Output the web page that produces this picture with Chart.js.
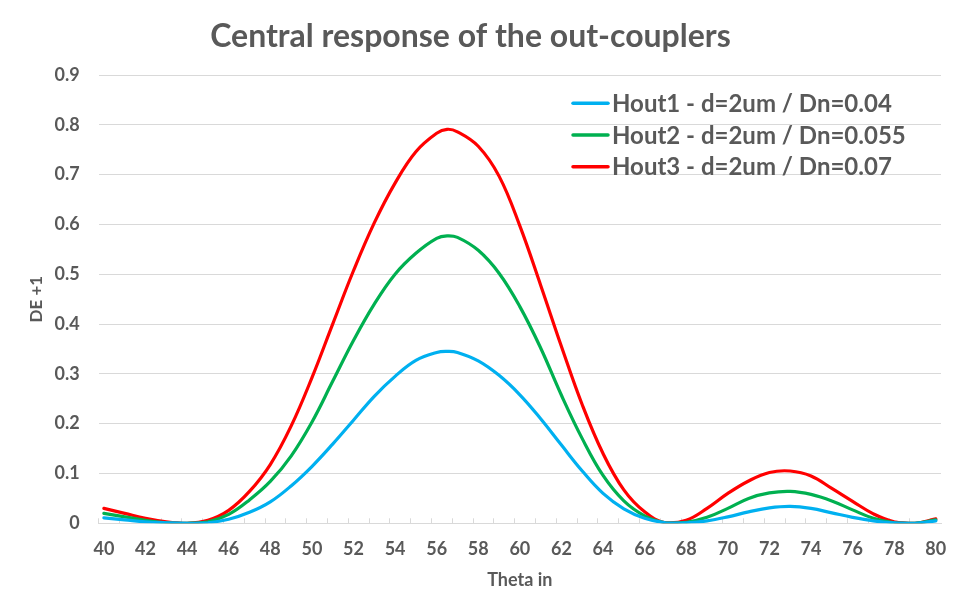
<!DOCTYPE html>
<html>
<head>
<meta charset="utf-8">
<script src="https://cdn.jsdelivr.net/npm/chart.js@4.4.1/dist/chart.umd.min.js"></script>
<style>
  html, body { margin: 0; padding: 0; background: #ffffff; }
  #wrap { width: 972px; height: 611px; position: relative; }
</style>
</head>
<body>
<div id="wrap"><canvas id="c"></canvas></div>
<script>
// ---- data ----
const theta = [40, 41, 42, 43, 44, 45, 46, 47, 48, 49, 50, 51, 52, 53, 54, 55, 56, 56.5,
               57, 58, 59, 60, 61, 62, 63, 64, 65, 66, 67, 68, 69, 70, 71, 72, 73, 74, 75, 76, 77, 78, 79, 80];

const hout1 = [0.011, 0.007, 0.003, 0.001, 0.000, 0.001, 0.008, 0.022, 0.043, 0.075, 0.114, 0.159, 0.207, 0.255, 0.295, 0.327, 0.343, 0.345,
               0.343, 0.326, 0.297, 0.258, 0.210, 0.157, 0.105, 0.060, 0.029, 0.010, 0.001, 0.001, 0.005, 0.013, 0.023, 0.031, 0.034, 0.030, 0.021, 0.012, 0.005, 0.001, 0.000, 0.005];

const hout2 = [0.020, 0.013, 0.006, 0.001, 0.000, 0.003, 0.018, 0.047, 0.084, 0.135, 0.203, 0.285, 0.367, 0.440, 0.500, 0.542, 0.572, 0.577,
               0.574, 0.548, 0.502, 0.435, 0.352, 0.257, 0.170, 0.096, 0.045, 0.015, 0.001, 0.002, 0.012, 0.030, 0.050, 0.061, 0.064, 0.058, 0.045, 0.027, 0.010, 0.001, 0.000, 0.007];

const hout3 = [0.030, 0.020, 0.010, 0.003, 0.000, 0.006, 0.026, 0.064, 0.118, 0.195, 0.292, 0.400, 0.507, 0.603, 0.683, 0.746, 0.783, 0.791,
               0.786, 0.757, 0.697, 0.597, 0.478, 0.355, 0.238, 0.140, 0.067, 0.023, 0.001, 0.006, 0.030, 0.060, 0.085, 0.102, 0.105, 0.095, 0.070, 0.044, 0.019, 0.003, 0.000, 0.009];

const seriesLabels = ['Hout1 - d=2um / Dn=0.04', 'Hout2 - d=2um / Dn=0.055', 'Hout3 - d=2um / Dn=0.07'];
const seriesColors = ['#00B0F0', '#00B050', '#FF0000'];

const xTickLabels = ['40', '42', '44', '46', '48', '50', '52', '54', '56', '58', '60',
                     '62', '64', '66', '68', '70', '72', '74', '76', '78', '80'];
const yTickLabels = ['0', '0.1', '0.2', '0.3', '0.4', '0.5', '0.6', '0.7', '0.8', '0.9'];

const titleText = 'Central response of the out-couplers';
const xTitle = 'Theta in';
const yTitle = 'DE +1';

// ---- build datasets ----
function pts(ys) { return theta.map((t, i) => ({ x: t, y: ys[i] })); }
const seriesValues = [hout1, hout2, hout3];

const TXT = '#595959';
const GRID = '#D9D9D9';
const FONT = 'Lato, "Open Sans", "DejaVu Sans", sans-serif';

const insideLegend = {
  id: 'insideLegend',
  afterDraw(chart) {
    const ctx = chart.ctx;
    const ca = chart.chartArea;
    ctx.save();
    ctx.font = 'bold 24px ' + FONT;
    ctx.textBaseline = 'middle';
    ctx.textAlign = 'left';
    chart.data.datasets.forEach((ds, i) => {
      const y = ca.top + 28.3 + i * 31.7;
      const x0 = ca.right - 368;
      ctx.strokeStyle = ds.borderColor;
      ctx.lineWidth = 3.5;
      ctx.lineCap = 'round';
      ctx.beginPath();
      ctx.moveTo(x0, y);
      ctx.lineTo(x0 + 35, y);
      ctx.stroke();
      ctx.fillStyle = TXT;
      ctx.fillText(ds.label, x0 + 39, y + 1);
    });
    ctx.restore();
  }
};

new Chart(document.getElementById('c'), {
  type: 'scatter',
  data: {
    datasets: seriesValues.map((vals, i) => ({
      label: seriesLabels[i],
      data: pts(vals),
      showLine: true,
      borderColor: seriesColors[i],
      backgroundColor: seriesColors[i],
      borderWidth: 3.2,
      pointRadius: 0,
      pointHoverRadius: 0,
      tension: 0.4,
      borderCapStyle: 'round',
      borderJoinStyle: 'round'
    }))
  },
  options: {
    responsive: true,
    maintainAspectRatio: false,
    animation: false,
    events: [],
    layout: { padding: { left: 0, right: 31, top: 0, bottom: 0 } },
    plugins: {
      legend: { display: false },
      tooltip: { enabled: false },
      title: {
        display: true,
        text: titleText,
        color: TXT,
        font: { family: FONT, size: 32, weight: 'bold', lineHeight: 1.2 },
        padding: { top: 17.8, bottom: 18.8 }
      }
    },
    scales: {
      x: {
        type: 'linear',
        min: 39.75,
        max: 80.25,
        afterBuildTicks(scale) {
          const t = [];
          for (let k = 0; k <= 40; k++) t.push({ value: 39.75 + k });
          scale.ticks = t;
        },
        afterFit(scale) { scale.height = 87.7; },
        border: { display: true, color: GRID, width: 1 },
        grid: { drawOnChartArea: false, drawTicks: true, tickLength: -5, color: GRID, lineWidth: 1 },
        ticks: {
          autoSkip: false,
          maxRotation: 0,
          minRotation: 0,
          labelOffset: 5.2,
          padding: 20.5,
          color: TXT,
          font: { family: FONT, size: 18, weight: 'bold' },
          callback: (v, idx) => (idx % 2 === 0 ? xTickLabels[idx / 2] : '')
        },
        title: {
          display: true,
          text: xTitle,
          color: TXT,
          font: { family: FONT, size: 18, weight: 'bold', lineHeight: 1.2 },
          padding: { top: 0, bottom: 20 }
        }
      },
      y: {
        type: 'linear',
        min: 0,
        max: 0.9,
        afterBuildTicks(scale) {
          scale.ticks = yTickLabels.map(s => ({ value: parseFloat(s) }));
        },
        afterFit(scale) { scale.width = 98.7; },
        border: { display: false },
        grid: { drawTicks: false, color: GRID, lineWidth: 1 },
        ticks: {
          padding: 19,
          color: TXT,
          font: { family: FONT, size: 18, weight: 'bold' },
          callback: (v, idx) => yTickLabels[idx]
        },
        title: {
          display: true,
          text: yTitle,
          color: TXT,
          font: { family: FONT, size: 17, weight: 'bold', lineHeight: 1.2 },
          padding: { top: 26 }
        }
      }
    }
  },
  plugins: [insideLegend]
});
</script>
</body>
</html>
